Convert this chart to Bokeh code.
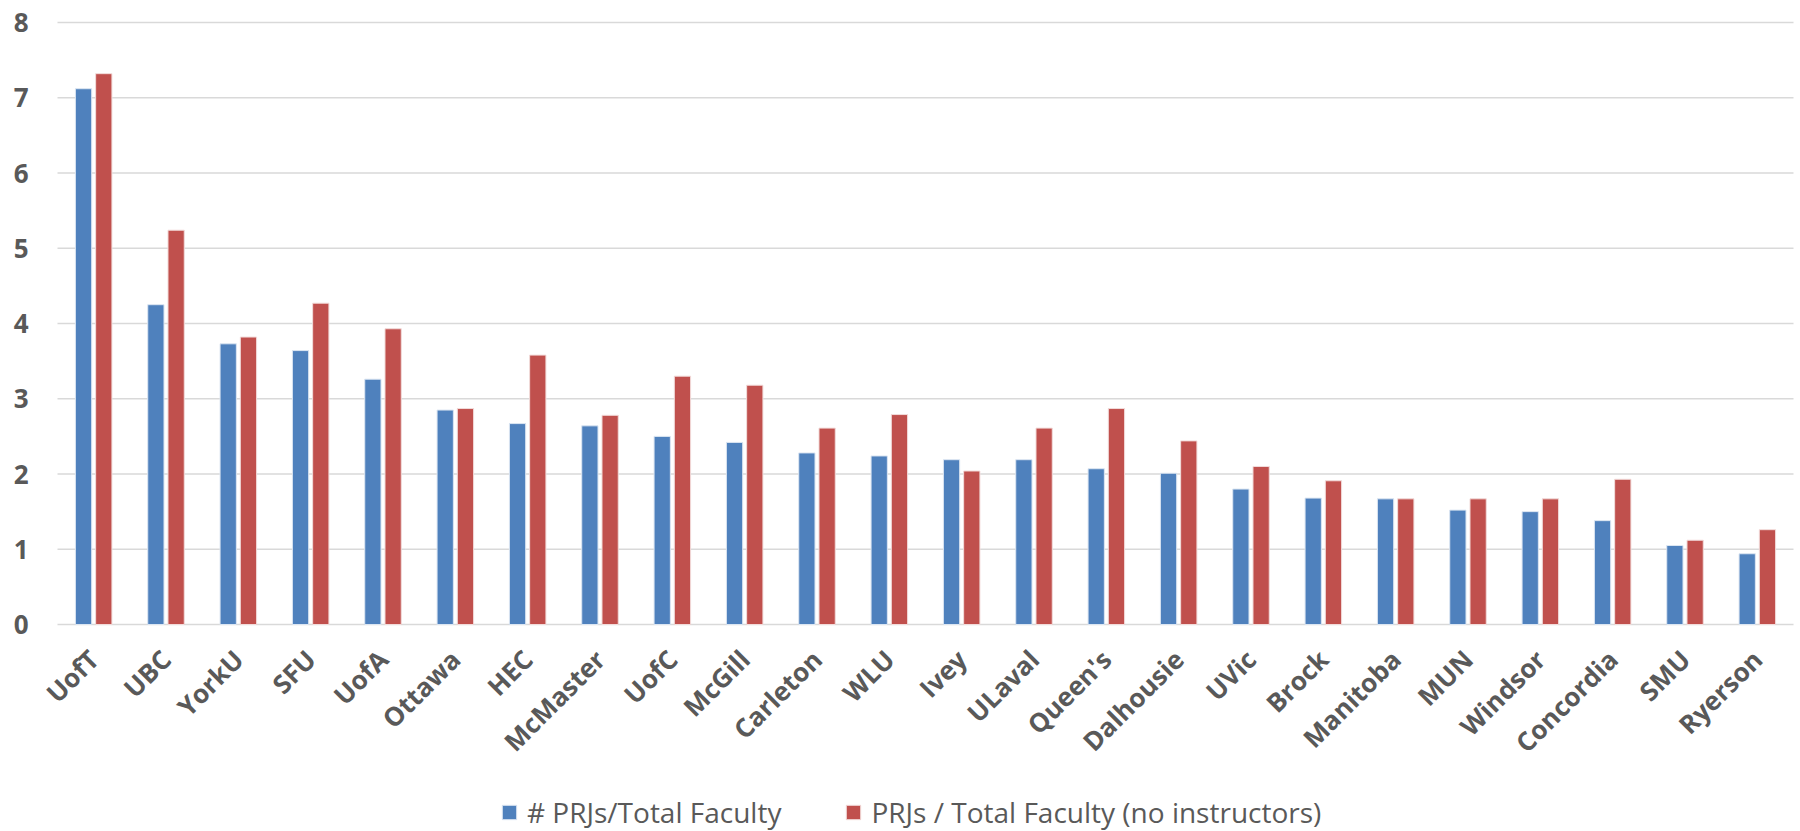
import math
from bokeh.plotting import figure
from bokeh.models import Range1d, Legend, LegendItem, ColumnDataSource
from bokeh.core.properties import value
from bokeh.transform import dodge
from bokeh.embed import file_html
from bokeh.resources import INLINE

schools = ["UofT", "UBC", "YorkU", "SFU", "UofA", "Ottawa", "HEC", "McMaster", "UofC", "McGill",
           "Carleton", "WLU", "Ivey", "ULaval", "Queen's", "Dalhousie", "UVic", "Brock", "Manitoba",
           "MUN", "Windsor", "Concordia", "SMU", "Ryerson"]
prj_total = [7.12, 4.25, 3.73, 3.64, 3.26, 2.85, 2.67, 2.64, 2.50, 2.42,
             2.28, 2.24, 2.19, 2.19, 2.07, 2.01, 1.80, 1.68, 1.67,
             1.52, 1.50, 1.38, 1.05, 0.94]
prj_no_instr = [7.32, 5.24, 3.82, 4.27, 3.93, 2.87, 3.58, 2.78, 3.30, 3.18,
                2.61, 2.79, 2.04, 2.61, 2.87, 2.44, 2.10, 1.91, 1.67,
                1.67, 1.67, 1.93, 1.12, 1.26]
series_names = ["# PRJs/Total Faculty", "PRJs / Total Faculty (no instructors)"]
y_ticks = [0, 1, 2, 3, 4, 5, 6, 7, 8]
y_tick_labels = ["0", "1", "2", "3", "4", "5", "6", "7", "8"]

BLUE = "#4F81BD"
RED = "#C0504D"
FONT = "Open Sans"
GRAY = "#595959"
GRID = "#D9D9D9"

# layout (pixels)
W, H = 1800, 831
LEFT = 57            # left edge of the category area
RIGHT = 7            # right margin after the last category
TOP = 22             # space above the "8" gridline
PLOT_H = 602         # height of the 0..8 value area
N = len(schools)
CAT_W = (W - LEFT - RIGHT) / N
PX_PER_UNIT = PLOT_H / 8.0
BELOW = H - TOP - PLOT_H
LABEL_DROP = 30      # category label anchor below the zero line
YLAB_GAP = 29        # y tick label right edge to category area

# categories are placed at the centre of unit-wide slots: 0.5, 1.5, ...
slot = [i + 0.5 for i in range(N)]
src = ColumnDataSource(dict(school=schools, x=slot, a=prj_total, b=prj_no_instr))

p = figure(x_range=Range1d(-LEFT / CAT_W, N + RIGHT / CAT_W),
           y_range=Range1d(-BELOW / PX_PER_UNIT, 8 + TOP / PX_PER_UNIT),
           frame_width=W, frame_height=H,
           min_border=0, x_axis_location=None, y_axis_location=None,
           output_backend="svg", toolbar_location=None)
p.outline_line_color = None
p.background_fill_color = "white"
p.border_fill_color = "white"
p.grid.visible = False

# horizontal gridlines across the category area
p.segment(x0=0, x1=N, y0=y_ticks, y1=y_ticks, line_color=GRID, line_width=1.5)

r1 = p.vbar(x=dodge("x", -0.14), top="a", width=0.225, source=src,
            fill_color=BLUE, line_color="#DCE6F2", line_width=1)
r2 = p.vbar(x=dodge("x", 0.14), top="b", width=0.225, source=src,
            fill_color=RED, line_color="#F2DCDB", line_width=1)

# y tick labels
p.text(x=-YLAB_GAP / CAT_W, y=y_ticks, text=y_tick_labels,
       text_align="right", text_baseline="middle",
       text_font=value(FONT), text_font_style="bold", text_font_size="26px",
       text_color=GRAY)

# category labels, rotated 45 degrees, ending under each category
p.text(x="x", y=-LABEL_DROP / PX_PER_UNIT, text="school", source=src,
       angle=math.pi / 4, text_align="right", text_baseline="middle",
       text_font=value(FONT), text_font_style="bold", text_font_size="26px",
       text_color=GRAY)

legend = Legend(items=[LegendItem(label=series_names[0], renderers=[r1]),
                       LegendItem(label=series_names[1], renderers=[r2])],
                orientation="horizontal", location=(500, 0),
                margin=0, padding=0, spacing=63,
                glyph_width=18, glyph_height=18, label_standoff=9,
                label_text_font=FONT, label_text_font_size="28px", label_text_color=GRAY,
                border_line_color=None, background_fill_alpha=0)
p.add_layout(legend, "center")

open("out.html", "w").write(file_html(p, INLINE))
